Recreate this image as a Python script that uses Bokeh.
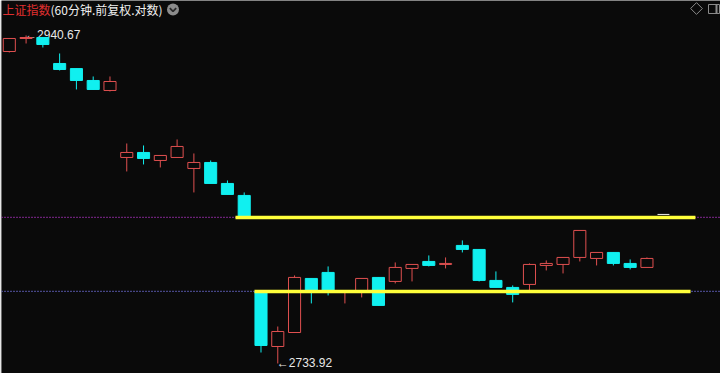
import math
from bokeh.plotting import figure
from bokeh.models import Range1d, LinearScale, Span, ColumnDataSource
from bokeh.embed import file_html
from bokeh.resources import INLINE
from bokeh.core.properties import value

# ---------------- data ----------------
title_name = "上证指数"
title_info = "(60分钟.前复权.对数)"

opens = [2930.21, 2938.69, 2939.34, 2922.41, 2919.10, 2911.39, 2904.93,
         2862.01, 2865.19, 2860.10, 2862.01, 2855.02, 2858.83, 2845.52, 2837.95,
         2778.06, 2744.27, 2752.81, 2786.09, 2789.81, 2777.44, 2777.44, 2786.71,
         2784.24, 2792.29, 2796.63, 2794.77, 2806.60, 2804.10, 2784.86, 2780.53,
         2782.38, 2794.15, 2794.77, 2799.12, 2798.50, 2802.23, 2795.39, 2792.91]
highs = [2938.69, 2940.67, 2939.34, 2928.91, 2919.10, 2913.98, 2913.98,
         2870.92, 2869.65, 2863.28, 2873.48, 2864.55, 2860.10, 2847.42, 2839.84,
         2778.06, 2756.49, 2787.95, 2786.09, 2793.53, 2778.68, 2786.09, 2786.71,
         2796.01, 2794.77, 2800.36, 2799.12, 2809.72, 2804.10, 2790.43, 2781.76,
         2795.39, 2797.26, 2799.12, 2815.96, 2802.23, 2802.23, 2797.88, 2799.12]
lows = [2929.56, 2935.42, 2932.81, 2917.87, 2905.58, 2905.58, 2904.29,
        2853.12, 2857.56, 2855.66, 2862.01, 2839.84, 2845.52, 2838.58, 2824.11,
        2740.61, 2733.92, 2752.81, 2770.66, 2775.59, 2770.66, 2774.36, 2769.43,
        2783.00, 2784.24, 2793.53, 2792.29, 2802.23, 2784.24, 2780.53, 2771.28,
        2778.68, 2791.05, 2789.19, 2796.63, 2794.15, 2794.15, 2791.67, 2792.91]
closes = [2938.69, 2939.34, 2934.77, 2918.52, 2911.39, 2905.58, 2910.74,
          2865.19, 2861.37, 2863.28, 2869.01, 2858.83, 2845.52, 2838.58, 2824.11,
          2744.88, 2753.43, 2786.71, 2778.06, 2778.68, 2778.06, 2786.09, 2769.43,
          2792.91, 2794.77, 2794.15, 2795.39, 2804.10, 2784.86, 2780.53, 2776.21,
          2794.77, 2795.39, 2799.12, 2815.96, 2802.23, 2795.39, 2792.91, 2798.50]

high_idx = 1
low_idx = 16
high_text = "←2940.67"
low_text = "←2733.92"

resistance = 2824.11
support = 2778.06
resistance_span = [13.48, 40.89]
support_span = [14.61, 40.60]
tick_price = 2826.0
tick_span = [38.63, 39.34]

# ---------------- colours ----------------
BG = "#0a0a0a"
RED = "#e05050"
CYAN = "#10f0f0"
YELLOW = "#ffff3a"

idx = list(range(len(opens)))
up = [i for i in idx if closes[i] >= opens[i]]
dn = [i for i in idx if closes[i] < opens[i]]

up_src = ColumnDataSource(dict(
    x=up,
    top=[closes[i] for i in up], bottom=[opens[i] for i in up],
    hi=[highs[i] for i in up], lo=[lows[i] for i in up]))
dn_src = ColumnDataSource(dict(
    x=dn,
    top=[opens[i] for i in dn], bottom=[closes[i] for i in dn],
    hi=[highs[i] for i in dn], lo=[lows[i] for i in dn]))

p = figure(width=720, height=373,
           x_range=Range1d(-0.4648, 42.384),
           y_range=Range1d(2727.85, 2963.6),
           y_axis_type="log",
           x_axis_location=None, y_axis_location=None,
           toolbar_location=None, output_backend="svg",
           min_border=0, min_border_left=1,
           background_fill_color=BG, border_fill_color="#9a9a9a",
           outline_line_color=None)
p.grid.visible = False

# pixel-space ranges for interface decorations
p.extra_x_ranges = {"px": Range1d(1, 720)}
p.extra_y_ranges = {"px": Range1d(373, 0)}
p.extra_x_scales = {"px": LinearScale()}
p.extra_y_scales = {"px": LinearScale()}

# dotted reference lines
p.add_layout(Span(location=resistance, dimension="width", line_color="#c838e0",
                  line_dash="1 2", line_width=1.3, level="underlay"))
p.add_layout(Span(location=support, dimension="width", line_color="#8080ff",
                  line_dash="1 2", line_width=1.3, level="underlay"))

# extreme labels (drawn below candles)
p.text(x=[high_idx, low_idx], y=[highs[high_idx], lows[low_idx]],
       text=[high_text, low_text], text_color="#e8e8e8",
       text_font=value("Liberation Sans"), text_font_size="12px",
       text_baseline="middle", text_align="left", x_offset=-1)

# candles: up (hollow red)
p.segment(x0="x", y0="hi", x1="x", y1="top", source=up_src, line_color=RED, line_width=1)
p.segment(x0="x", y0="bottom", x1="x", y1="lo", source=up_src, line_color=RED, line_width=1)
p.vbar(x="x", width=0.72, top="top", bottom="bottom", source=up_src,
       fill_color=BG, line_color=RED, line_width=1)

# candles: down (filled cyan)
p.segment(x0="x", y0="hi", x1="x", y1="lo", source=dn_src, line_color=CYAN, line_width=1)
p.vbar(x="x", width=0.72, top="top", bottom="bottom", source=dn_src,
       fill_color=CYAN, line_color=CYAN, line_width=1)

# yellow gap lines
p.segment(x0=[resistance_span[0], support_span[0]], y0=[resistance, support],
          x1=[resistance_span[1], support_span[1]], y1=[resistance, support],
          line_color=YELLOW, line_width=3.5, line_cap="butt")

# small white tick
p.segment(x0=[tick_span[0]], y0=[tick_price], x1=[tick_span[1]], y1=[tick_price],
          line_color="#f0f0f0", line_width=1)

# ---------------- header decorations (pixel space) ----------------
p.text(x=[2, 50], y=[9, 9], text=[title_name, title_info],
       text_color=["#e03030", "#f0f0f0"],
       text_font=value("Noto Sans CJK SC"), text_font_size="12px",
       text_baseline="middle", text_align="left",
       x_range_name="px", y_range_name="px")
p.scatter(x=[172.5], y=[9], size=12, marker="circle", fill_color="#8c8c8c",
          line_color=None, x_range_name="px", y_range_name="px")
p.line(x=[169.3, 172.5, 175.7], y=[7.6, 10.8, 7.6], line_color="#2a2a2a",
       line_width=1.8, x_range_name="px", y_range_name="px")
p.scatter(x=[696], y=[8], size=8.3, marker="square", angle=math.pi / 4,
          fill_color=None, line_color="#8a8a8a", line_width=1,
          x_range_name="px", y_range_name="px")
p.rect(x=[713.5], y=[8.5], width=11, height=9, fill_color=None,
       line_color="#8a8a8a", line_width=1, x_range_name="px", y_range_name="px")
p.segment(x0=[716], y0=[4.5], x1=[716], y1=[12.5], line_color="#8a8a8a",
          line_width=2, x_range_name="px", y_range_name="px")

open("out.html", "w").write(file_html(p, INLINE))
